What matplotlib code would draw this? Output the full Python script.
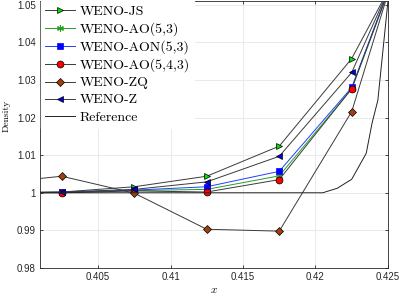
import matplotlib
matplotlib.use("Agg")
import matplotlib.pyplot as plt

x = [0.3975, 0.4025, 0.4075, 0.4125, 0.4175, 0.4225, 0.4275]
weno_js = [1.0, 1.0002, 1.0016, 1.0044, 1.0124, 1.0357, 1.0717]
weno_ao53 = [1.0, 1.0001, 1.0006, 1.0009, 1.0045, 1.0276, 1.0790]
weno_aon53 = [1.0, 1.0001, 1.0007, 1.0016, 1.0057, 1.0280, 1.0792]
weno_ao543 = [1.0, 1.0000, 1.0005, 1.0002, 1.0035, 1.0277, 1.0790]
weno_zq = [1.0024, 1.0044, 0.9999, 0.9903, 0.9898, 1.0216, 1.0844]
weno_z = [1.0, 1.0002, 1.0009, 1.0029, 1.0097, 1.0320, 1.0753]
ref_x = [0.39, 0.4205, 0.4215, 0.4225, 0.4235, 0.4239, 0.4243, 0.4250, 0.4255]
ref_y = [1.0, 1.0, 1.0012, 1.0036, 1.0105, 1.0185, 1.0246, 1.0510, 1.0750]

plt.rcParams['mathtext.fontset'] = 'cm'
fig = plt.figure(figsize=(3.99, 2.98), dpi=100)
ax = fig.add_axes([0.1003, 0.1007, 0.8721, 0.8973])

lc = '#3a3a3a'
ms = 5
ax.plot(x, weno_js, color=lc, lw=0.7, marker='>', ms=ms, mfc='#00e000', mec='k', mew=0.5, label='WENO-JS', zorder=3)
ax.plot(x, weno_ao53, color='#22a022', lw=0.7, marker=(6, 2, 0), ms=ms, mfc='#22a022', mec='#22a022', mew=0.8, label='WENO-AO(5,3)', zorder=3)
ax.plot(x, weno_aon53, color='#2040ff', lw=0.7, marker='s', ms=4.2, mfc='#0000ff', mec='#0000ff', mew=0.5, label='WENO-AON(5,3)', zorder=3)
ax.plot(x, weno_ao543, color=lc, lw=0.7, marker='o', ms=ms, mfc='#ff0000', mec='k', mew=0.5, label='WENO-AO(5,4,3)', zorder=3)
ax.plot(x, weno_zq, color=lc, lw=0.7, marker='D', ms=4, mfc='#a0410d', mec='k', mew=0.5, label='WENO-ZQ', zorder=3)
ax.plot(x, weno_z, color=lc, lw=0.7, marker='<', ms=ms, mfc='#0000e0', mec='k', mew=0.5, label='WENO-Z', zorder=3)
ax.plot(ref_x, ref_y, color='#222222', lw=0.7, label='Reference', zorder=3)

ax.set_xlim(0.401, 0.425)
ax.set_ylim(0.98, 1.0511)
ax.set_xticks([0.405, 0.41, 0.415, 0.42, 0.425])
ax.set_xticklabels(['0.405', '0.41', '0.415', '0.42', '0.425'])
ax.set_yticks([0.98, 0.99, 1.0, 1.01, 1.02, 1.03, 1.04, 1.05])
ax.set_yticklabels(['0.98', '0.99', '1', '1.01', '1.02', '1.03', '1.04', '1.05'])
for lab in ax.get_xticklabels() + ax.get_yticklabels():
    lab.set_family('Liberation Sans')
    lab.set_fontsize(7)
    lab.set_color('#262626')
ax.tick_params(direction='in', top=True, right=True, length=2.5, width=0.6, color='#262626', pad=3)
ax.grid(True, color='#e6e6e6', lw=0.6)
ax.set_axisbelow(True)
for s in ax.spines.values():
    s.set_color('#262626')
    s.set_linewidth(0.6)

ax.set_ylabel('Density', family='cmr10', fontsize=7)
ax.yaxis.set_label_coords(-0.085, 0.57)
ax.set_xlabel(r'$x$', fontsize=8, labelpad=2)

leg = ax.legend(loc='upper left', prop={'family': 'cmr10', 'size': 10}, frameon=True,
                fancybox=False, edgecolor='white', framealpha=1, borderpad=0.3,
                labelspacing=0.31, handlelength=2.2, handletextpad=0.3, borderaxespad=0.05)
leg.set_zorder(5)

fig.savefig('out.png', dpi=100)
